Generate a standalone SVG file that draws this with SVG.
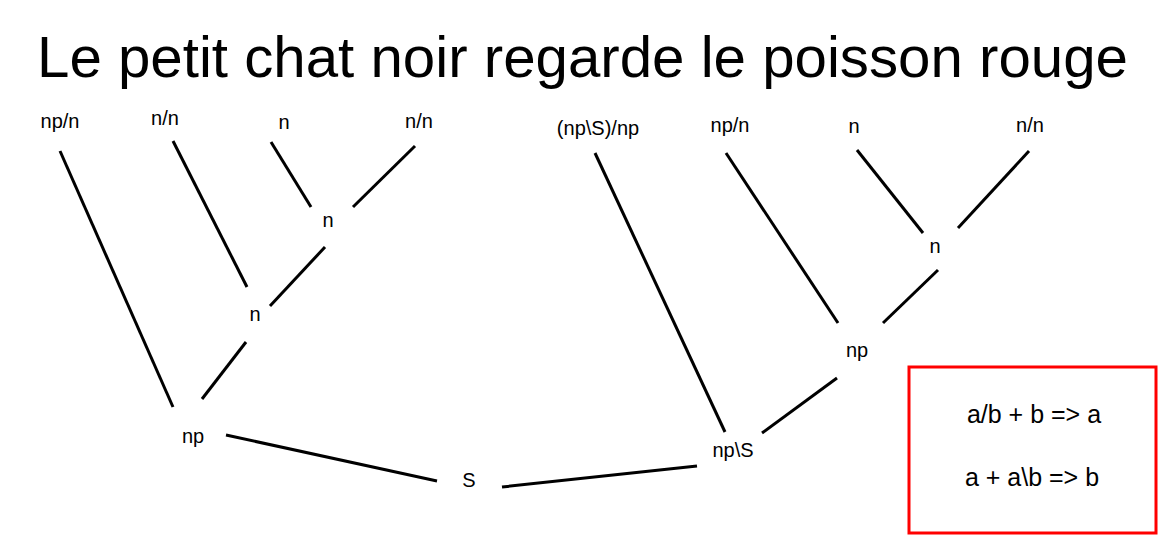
<svg xmlns="http://www.w3.org/2000/svg" width="1167" height="547" viewBox="0 0 1167 547">
<style>
.lbl{font-family:"Liberation Sans",Arial,sans-serif;font-size:20px;fill:#000;text-anchor:middle}
.title{font-family:"Liberation Sans",Arial,sans-serif;font-size:58px;fill:#000}
.rule{font-family:"Liberation Sans",Arial,sans-serif;font-size:25px;fill:#000;text-anchor:middle}
.edge{stroke:#000;stroke-width:3;fill:none}
</style>
<rect width="1167" height="547" fill="#fff"/>
<text class="title" x="37" y="77" textLength="1091" lengthAdjust="spacingAndGlyphs">Le petit chat noir regarde le poisson rouge</text>
<g id="connectors">
<line class="edge" x1="60" y1="151" x2="173" y2="407"/>
<line class="edge" x1="173" y1="141" x2="247" y2="287"/>
<line class="edge" x1="271" y1="142" x2="311" y2="207"/>
<line class="edge" x1="415" y1="146" x2="353" y2="207"/>
<line class="edge" x1="325" y1="247" x2="270" y2="306"/>
<line class="edge" x1="246" y1="342" x2="202" y2="399"/>
<line class="edge" x1="226" y1="435" x2="437" y2="481"/>
<line class="edge" x1="502" y1="487" x2="697" y2="466"/>
<line class="edge" x1="762" y1="433" x2="837" y2="378"/>
<line class="edge" x1="595" y1="153" x2="725" y2="432"/>
<line class="edge" x1="726" y1="153" x2="838" y2="323"/>
<line class="edge" x1="857" y1="150" x2="923" y2="233"/>
<line class="edge" x1="1029" y1="151" x2="958" y2="228"/>
<line class="edge" x1="938" y1="270" x2="883" y2="323"/>
</g>
<g id="w1"><text class="lbl" x="60" y="128">np/n</text></g>
<g id="w2"><text class="lbl" x="165" y="125">n/n</text></g>
<g id="w3"><text class="lbl" x="284" y="129">n</text></g>
<g id="w4"><text class="lbl" x="419" y="128">n/n</text></g>
<g id="n1"><text class="lbl" x="328" y="227">n</text></g>
<g id="n2"><text class="lbl" x="255" y="321">n</text></g>
<g id="np1"><text class="lbl" x="193" y="443">np</text></g>
<g id="s"><text class="lbl" x="469" y="487">S</text></g>
<g id="w5"><text class="lbl" x="598" y="135">(np\S)/np</text></g>
<g id="w6"><text class="lbl" x="730" y="132">np/n</text></g>
<g id="w7"><text class="lbl" x="854" y="133">n</text></g>
<g id="w8"><text class="lbl" x="1030" y="132">n/n</text></g>
<g id="n3"><text class="lbl" x="935" y="253">n</text></g>
<g id="np2"><text class="lbl" x="857" y="357">np</text></g>
<g id="vp"><text class="lbl" x="733" y="457">np\S</text></g>
<g id="rules">
<rect x="909" y="367" width="247" height="166" fill="none" stroke="#f00" stroke-width="3"/>
<text class="rule" x="1034" y="423">a/b + b =&gt; a</text>
<text class="rule" x="1032" y="486">a + a\b =&gt; b</text>
</g>
</svg>
